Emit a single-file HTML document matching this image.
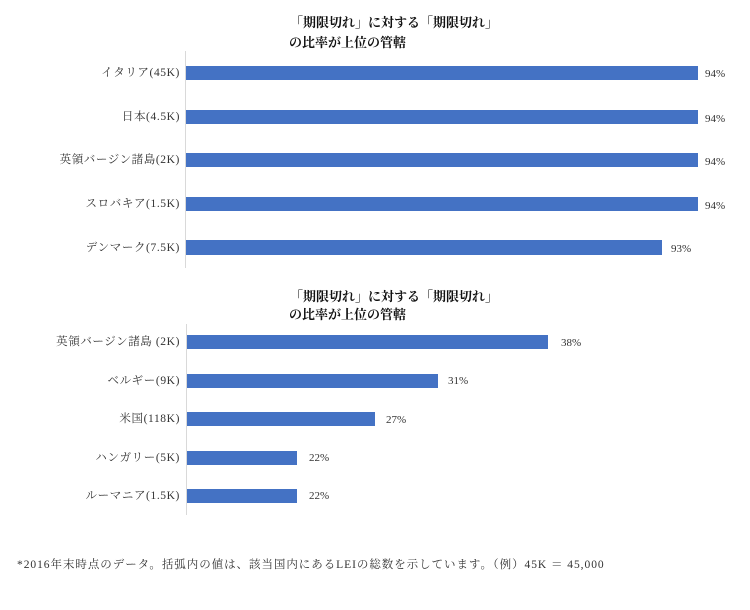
<!DOCTYPE html>
<html><head><meta charset="utf-8"><style>
body{margin:0;background:#fff;width:750px;height:610px;position:relative;overflow:hidden;font-family:"Liberation Serif","Noto Serif CJK JP","Noto Serif CJK SC",serif;color:#333}
.t{position:absolute;font-size:13px;font-weight:bold;color:#111;white-space:nowrap}
.l{position:absolute;right:570px;font-size:11.5px;white-space:nowrap;line-height:14px;letter-spacing:0.6px}
.b{position:absolute;background:#4472c4;left:186px}
.v{position:absolute;font-size:11px;white-space:nowrap;line-height:14px}
.ax{position:absolute;width:1px;background:#d9d9d9}
</style></head><body>
<div class="t" style="left:290px;top:12px">「期限切れ」に対する「期限切れ」</div>
<div class="t" style="left:289px;top:32px">の比率が上位の管轄</div>
<div class="ax" style="left:185px;top:51px;height:217px"></div>
<div class="l" style="top:66px">イタリア(45K)</div><div class="b" style="top:66px;width:512px;height:14px"></div><div class="v" style="left:705px;top:67px">94%</div>
<div class="l" style="top:110px">日本(4.5K)</div><div class="b" style="top:110px;width:512px;height:14px"></div><div class="v" style="left:705px;top:112px">94%</div>
<div class="l" style="top:153px">英領バージン諸島(2K)</div><div class="b" style="top:153px;width:512px;height:14px"></div><div class="v" style="left:705px;top:155px">94%</div>
<div class="l" style="top:197px">スロバキア(1.5K)</div><div class="b" style="top:197px;width:512px;height:14px"></div><div class="v" style="left:705px;top:199px">94%</div>
<div class="l" style="top:241px">デンマーク(7.5K)</div><div class="b" style="top:240px;width:476px;height:15px"></div><div class="v" style="left:671px;top:242px">93%</div>

<div class="t" style="left:290px;top:286px">「期限切れ」に対する「期限切れ」</div>
<div class="t" style="left:289px;top:304px">の比率が上位の管轄</div>
<div class="ax" style="left:186px;top:324px;height:191px"></div>
<div class="l" style="top:335px">英領バージン諸島 (2K)</div><div class="b" style="left:187px;top:335px;width:361px;height:14px"></div><div class="v" style="left:561px;top:336px">38%</div>
<div class="l" style="top:374px">ベルギー(9K)</div><div class="b" style="left:187px;top:374px;width:251px;height:14px"></div><div class="v" style="left:448px;top:374px">31%</div>
<div class="l" style="top:412px">米国(118K)</div><div class="b" style="left:187px;top:412px;width:188px;height:14px"></div><div class="v" style="left:386px;top:413px">27%</div>
<div class="l" style="top:451px">ハンガリー(5K)</div><div class="b" style="left:187px;top:451px;width:110px;height:14px"></div><div class="v" style="left:309px;top:451px">22%</div>
<div class="l" style="top:489px">ルーマニア(1.5K)</div><div class="b" style="left:187px;top:489px;width:110px;height:14px"></div><div class="v" style="left:309px;top:489px">22%</div>

<div style="position:absolute;left:17px;top:556px;font-size:11.5px;white-space:nowrap;letter-spacing:0.95px">*2016年末時点のデータ。括弧内の値は、該当国内にあるLEIの総数を示しています。（例）45K ＝ 45,000</div>
</body></html>
